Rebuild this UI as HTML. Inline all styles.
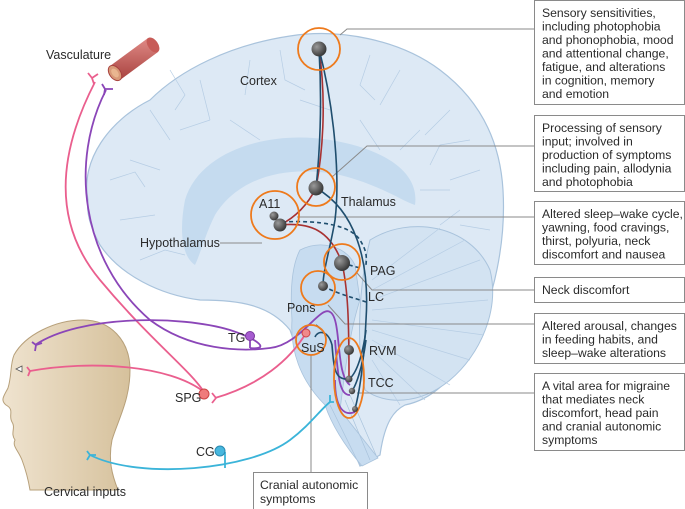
<!DOCTYPE html>
<html><head><meta charset="utf-8"><style>
html,body{margin:0;padding:0;background:#fff}
svg{display:block}
text{font-family:"Liberation Sans",sans-serif;fill:#2a2a2a}
</style></head><body>
<svg width="685" height="509" viewBox="0 0 685 509" xmlns="http://www.w3.org/2000/svg">
<defs>
<radialGradient id="nd" cx="35%" cy="35%" r="65%"><stop offset="0" stop-color="#9a9a9a"/><stop offset="1" stop-color="#3a3a3a"/></radialGradient>
<linearGradient id="hd" x1="0" y1="0" x2="1" y2="0"><stop offset="0" stop-color="#efe3cf"/><stop offset="1" stop-color="#d6c19c"/></linearGradient>
<linearGradient id="ves" x1="0" y1="0" x2="0" y2="1"><stop offset="0" stop-color="#e08a86"/><stop offset="1" stop-color="#a8423f"/></linearGradient>
</defs>
<!-- brain -->
<path d="M88,200 C80,160 110,120 150,100 C180,70 230,45 290,36 C340,28 400,40 440,70 C480,100 500,140 503,190 C506,240 495,300 470,345 C455,380 430,400 405,405 C395,410 385,420 380,455 L360,466 C350,440 340,420 330,410 C320,380 300,360 290,330 C270,305 240,300 200,300 C160,295 120,275 100,245 C92,230 86,215 88,200 Z" fill="#dde9f5" stroke="#a9c3dc" stroke-width="1.2"/>
<!-- cerebellum -->
<path d="M370,240 C410,215 470,225 490,270 C500,310 480,355 450,380 C420,405 385,405 365,390 C355,340 360,280 370,240 Z" fill="#d3e3f2" stroke="#a9c3dc"/>
<g stroke="#b6cde4" stroke-width="0.7" fill="none">
<path d="M372,300 L480,260 M372,310 L488,300 M372,320 L484,335 M372,330 L470,360 M372,340 L450,385 M372,350 L425,400 M372,360 L400,405 M372,290 L465,240 M372,280 L440,228"/>
<path d="M150,110 l20,30 M200,80 l10,40 M250,60 l-5,35 M400,70 l-20,35 M450,110 l-25,25 M480,170 l-30,10 M130,160 l30,10 M120,220 l35,-5 M230,120 l30,20 M360,120 l20,30 M420,190 l30,0"/>
<path d="M110,180 l25,-8 l10,15 M170,70 l15,25 l-10,15 M280,50 l5,30 l20,10 M370,55 l-10,30 l15,15 M470,140 l-30,5 l-10,20 M490,230 l-30,-5 M140,260 l25,-10 l20,5 M180,130 l30,-10 M300,100 l30,10 M420,130 l-20,20 M460,210 l-20,15"/>
</g>
<!-- corpus callosum / inner -->
<path d="M185,200 C200,150 270,130 330,140 C380,148 420,170 415,205 C400,200 380,185 340,175 C290,165 240,175 215,215 C205,235 200,255 195,265 C180,255 180,225 185,200 Z" fill="#c5dbef"/>
<path d="M300,250 C320,240 345,245 355,265 L360,300 C350,330 345,370 340,410 L378,458 L362,466 C340,440 330,420 325,405 C300,380 290,350 292,320 C290,290 292,265 300,250 Z" fill="#c7dcf0" stroke="#a9c3dc" stroke-width="0.8"/>
<path d="M330,405 L360,466 M345,400 L370,460 M350,395 L376,455" stroke="#a9c3dc" stroke-width="0.7" fill="none"/>
<!-- head -->
<path d="M83,320 C110,320 130,340 130,370 C130,400 118,420 112,440 C108,460 112,475 118,490 L30,490 C28,478 25,468 22,460 C18,450 12,446 15,440 C10,433 16,428 12,422 C8,415 15,410 6,405 C0,400 4,396 8,388 C12,375 10,365 14,355 C25,335 55,320 83,320 Z" fill="url(#hd)" stroke="#b7a07a"/>
<path d="M22,366 l-6,3 l6,3 z" fill="#fff" stroke="#555" stroke-width="0.8"/>
<!-- vasculature -->
<path d="M110,66 L148,38 L158,52 L120,80 Z" fill="url(#ves)"/>
<ellipse cx="153" cy="45" rx="5" ry="8.5" transform="rotate(-36 153 45)" fill="#c75b57"/>
<ellipse cx="115" cy="73" rx="5.5" ry="8.5" transform="rotate(-36 115 73)" fill="#d89a78" stroke="#a8423f"/>
<ellipse cx="115" cy="73" rx="3" ry="5" transform="rotate(-36 115 73)" fill="#e9b690"/>
<!-- connector lines (grey) -->
<g stroke="#8a8a8a" stroke-width="1" fill="none">
<path d="M534,29 H347 L340,35"/>
<path d="M534,146 H367 L332,177"/>
<path d="M534,217 H297"/>
<path d="M534,290 H372 L357,273"/>
<path d="M534,324 H345 L328,305"/>
<path d="M534,393 H357"/>
<path d="M220,243 H262"/>
<path d="M311,355 V472"/>
</g>
<!-- boxes -->
<g fill="#fff" stroke="#8a8a8a">
<rect x="534.5" y="0.5" width="150" height="104"/>
<rect x="534.5" y="115.5" width="150" height="76"/>
<rect x="534.5" y="201.5" width="150" height="63"/>
<rect x="534.5" y="277.5" width="150" height="25"/>
<rect x="534.5" y="313.5" width="150" height="50"/>
<rect x="534.5" y="373.5" width="150" height="77"/>
<rect x="253.5" y="472.5" width="114" height="40"/>
</g>
<g font-size="12.2">
<text x="542" y="17">Sensory sensitivities,</text>
<text x="542" y="30.5">including photophobia</text>
<text x="542" y="44">and phonophobia, mood</text>
<text x="542" y="57.5">and attentional change,</text>
<text x="542" y="71">fatigue, and alterations</text>
<text x="542" y="84.5">in cognition, memory</text>
<text x="542" y="98">and emotion</text>
<text x="542" y="132">Processing of sensory</text>
<text x="542" y="145.5">input; involved in</text>
<text x="542" y="159">production of symptoms</text>
<text x="542" y="172.5">including pain, allodynia</text>
<text x="542" y="186">and photophobia</text>
<text x="542" y="218">Altered sleep–wake cycle,</text>
<text x="542" y="231.5">yawning, food cravings,</text>
<text x="542" y="245">thirst, polyuria, neck</text>
<text x="542" y="258.5">discomfort and nausea</text>
<text x="542" y="294">Neck discomfort</text>
<text x="542" y="330">Altered arousal, changes</text>
<text x="542" y="343.5">in feeding habits, and</text>
<text x="542" y="357">sleep–wake alterations</text>
<text x="542" y="390">A vital area for migraine</text>
<text x="542" y="403.5">that mediates neck</text>
<text x="542" y="417">discomfort, head pain</text>
<text x="542" y="430.5">and cranial autonomic</text>
<text x="542" y="444">symptoms</text>
<text x="260" y="489">Cranial autonomic</text>
<text x="260" y="503">symptoms</text>
</g>
<!-- peripheral pathways -->
<g fill="none" stroke-width="1.8">
<path d="M95,82 C60,150 50,220 100,280 C150,340 190,370 204,392" stroke="#ea5f8e"/>
<path d="M106,90 C70,160 80,260 150,320 C190,350 240,352 270,348 C300,345 320,305 330,312 C342,318 335,375 350,385" stroke="#8b46b8"/>
<path d="M35,345 C80,315 180,315 230,330 C260,340 270,350 250,348" stroke="#8b46b8"/>
<path d="M335,340 C338,380 340,395 350,395 M335,380 C335,410 345,416 355,412" stroke="#8b46b8"/>
<path d="M30,371 C90,360 170,365 204,392" stroke="#ea5f8e"/>
<path d="M215,398 C260,385 290,360 306,333" stroke="#ea5f8e"/>
<path d="M90,455 C140,480 250,470 290,440 C310,425 320,410 330,402" stroke="#3bb4d9"/>
<path d="M250,348 V337" stroke="#8b46b8"/>
</g>
<path d="M225,468 V452" stroke="#3bb4d9" stroke-width="1.8"/>
<g fill="none" stroke-width="1.8">
<path d="M92,78 l6,-4 M92,78 l-4,-5 M92,78 l2,6" stroke="#ea5f8e"/>
<path d="M105,89 l8,0 M105,89 l-3,-5 M105,89 l-1,6" stroke="#8b46b8"/>
<path d="M36,345 l-4,-3 M36,345 l-1,6 M36,345 l6,-2" stroke="#8b46b8"/>
<path d="M30,371 l-3,-4 M30,371 l-2,5" stroke="#ea5f8e"/>
<path d="M216,398 l-4,-5 M216,398 l-4,5" stroke="#ea5f8e"/>
<path d="M90,455 l-3,-4 M90,455 l-3,5 M90,455 l6,0" stroke="#3bb4d9"/>
<path d="M330,402 v-7 M330,402 l4,0" stroke="#3bb4d9"/>
</g>
<!-- central pathways -->
<g fill="none" stroke-width="1.6">
<path d="M319,49 C325,90 325,140 316,188" stroke="#a83232"/>
<path d="M316,188 C305,210 290,220 280,225 C310,222 330,230 342,263 C348,290 349,320 349,379" stroke="#a83232"/>
<path d="M319,49 C322,100 320,150 316,188" stroke="#1f4e6e"/>
<path d="M319,49 C335,110 340,180 335,220 C330,250 323,270 323,286" stroke="#1f4e6e"/>
<path d="M316,188 C355,210 370,260 366,320 C364,360 360,390 355,409" stroke="#1f4e6e"/>
<path d="M366,330 C362,360 355,375 349,379 M366,340 C362,370 356,385 352,391" stroke="#1f4e6e"/>
<path d="M315,337 C318,330 328,330 332,345 C334,370 335,380 349,379 M322,330 l-6,-5" stroke="#1f4e6e"/>
<path d="M282,222 C320,220 350,225 360,240 C366,250 367,255 366,265 M342,263 L360,268 M323,286 C340,295 355,298 366,302" stroke="#1f4e6e" stroke-dasharray="4,3"/>
</g>
<!-- orange circles -->
<g fill="none" stroke="#ee7a1c" stroke-width="1.8">
<circle cx="319" cy="49" r="21"/>
<circle cx="316" cy="187" r="19"/>
<circle cx="275" cy="215" r="24"/>
<circle cx="342" cy="262" r="18"/>
<circle cx="318" cy="288" r="17"/>
<circle cx="311" cy="340" r="15"/>
<ellipse cx="349" cy="378" rx="15" ry="40"/>
</g>
<!-- nodes -->
<g fill="url(#nd)">
<circle cx="319" cy="49" r="7.5"/>
<circle cx="316" cy="188" r="7.5"/>
<circle cx="274" cy="216" r="4.5"/>
<circle cx="280" cy="225" r="6.5"/>
<circle cx="342" cy="263" r="8"/>
<circle cx="323" cy="286" r="5"/>
<circle cx="349" cy="350" r="5"/>
<circle cx="349" cy="379" r="3.5"/>
<circle cx="352" cy="391" r="3.2"/>
<circle cx="355" cy="409" r="3"/>
</g>
<circle cx="306" cy="333" r="4" fill="#f08a8a" stroke="#c44"/>
<circle cx="250" cy="336" r="4.5" fill="#a65bd0" stroke="#7a3a9e"/>
<circle cx="204" cy="394" r="5" fill="#ef7b7b" stroke="#c44"/>
<circle cx="220" cy="451" r="5" fill="#47b7de" stroke="#2a8ab0"/>
<!-- labels -->
<g font-size="12.5">
<text x="46" y="59">Vasculature</text>
<text x="240" y="85">Cortex</text>
<text x="341" y="206">Thalamus</text>
<text x="259" y="208">A11</text>
<text x="140" y="247">Hypothalamus</text>
<text x="370" y="275">PAG</text>
<text x="368" y="301">LC</text>
<text x="287" y="312">Pons</text>
<text x="301" y="352">SuS</text>
<text x="369" y="355">RVM</text>
<text x="368" y="387">TCC</text>
<text x="228" y="342">TG</text>
<text x="175" y="402">SPG</text>
<text x="196" y="456">CG</text>
<text x="44" y="496">Cervical inputs</text>
</g>
</svg>
</body></html>
